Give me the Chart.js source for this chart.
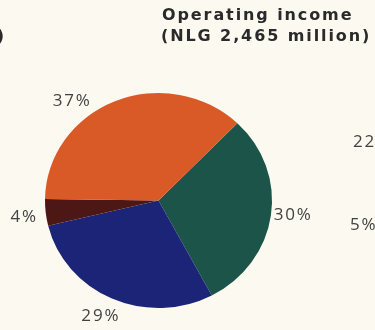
<!DOCTYPE html>
<html>
<head>
<meta charset="utf-8">
<script src="https://cdn.jsdelivr.net/npm/chart.js@4.4.1/dist/chart.umd.min.js"></script>
<style>
  html, body { margin: 0; padding: 0; background: #fbf9f0; overflow: hidden; }
  #wrap { position: relative; width: 375px; height: 330px; }
  canvas { display: block; }
</style>
</head>
<body>
<div id="wrap"><canvas id="incomeChart" width="375" height="330"></canvas></div>
<script>
// operating income split, NLG 2,465 million
const segments = ['Division A', 'Division B', 'Division C', 'Division D'];
const shares = [30, 29, 4, 37];
const sliceColors = ['#1d544a', '#1b2476', '#4c1714', '#d95a27'];
const titleLines = ['Operating income', '(NLG 2,465 million)'];

// bits of the neighbouring panels' labels that run into this one
const sideTexts = ['million)', '22%', '5%'];

const PIE_SQUASH = 0.947;   // the printed pie is a touch flatter than round
const LABEL_GAP = 22;
const labelTurn = [-1.5, 1, -1, -17]; // degrees, per slice label

// flatten the arcs vertically around the pie centre
const squashPie = {
  id: 'squashPie',
  beforeDatasetsDraw(chart) {
    const arc = chart.getDatasetMeta(0).data[0];
    const ctx = chart.ctx;
    ctx.save();
    ctx.translate(arc.x, arc.y);
    ctx.scale(1, PIE_SQUASH);
    ctx.translate(-arc.x, -arc.y);
  },
  afterDatasetsDraw(chart) {
    chart.ctx.restore();
  }
};

const textLayer = {
  id: 'textLayer',
  afterDraw(chart) {
    const ctx = chart.ctx;
    ctx.save();

    // title, bold and spaced out
    ctx.fillStyle = '#2a2a2a';
    ctx.font = 'bold 16px "DejaVu Sans"';
    ctx.letterSpacing = '1.9px';
    ctx.textAlign = 'left';
    ctx.textBaseline = 'middle';
    ctx.fillText(titleLines[0], 162, 16);
    ctx.fillText(titleLines[1], 161, 37);

    ctx.textAlign = 'right';
    ctx.fillText(sideTexts[0], 6, 37);

    // percentage labels around the pie
    ctx.fillStyle = '#424242';
    ctx.font = '17px "Open Sans"';
    ctx.letterSpacing = '1.8px';
    ctx.textAlign = 'center';
    const meta = chart.getDatasetMeta(0);
    meta.data.forEach((arc, i) => {
      const p = arc.getProps(['x', 'y', 'startAngle', 'endAngle', 'outerRadius'], true);
      const mid = (p.startAngle + p.endAngle) / 2 + labelTurn[i] * Math.PI / 180;
      const r = p.outerRadius + LABEL_GAP;
      const x = p.x + Math.cos(mid) * r;
      const y = p.y + Math.sin(mid) * r * PIE_SQUASH;
      ctx.fillText(shares[i] + '%', x, y);
    });

    ctx.textAlign = 'left';
    ctx.fillText(sideTexts[1], 353, 142);
    ctx.fillText(sideTexts[2], 350, 225);
    ctx.restore();
  }
};

new Chart(document.getElementById('incomeChart'), {
  type: 'pie',
  data: {
    labels: segments,
    datasets: [{
      data: shares,
      backgroundColor: sliceColors,
      borderWidth: 0,
      hoverOffset: 0,
      offset: 0
    }]
  },
  options: {
    responsive: false,
    animation: false,
    rotation: 44,
    layout: { padding: { left: 45, right: 103, top: 87, bottom: 16 } },
    plugins: {
      legend: { display: false },
      tooltip: { enabled: false },
      title: { display: false }
    }
  },
  plugins: [squashPie, textLayer]
});
</script>
</body>
</html>
